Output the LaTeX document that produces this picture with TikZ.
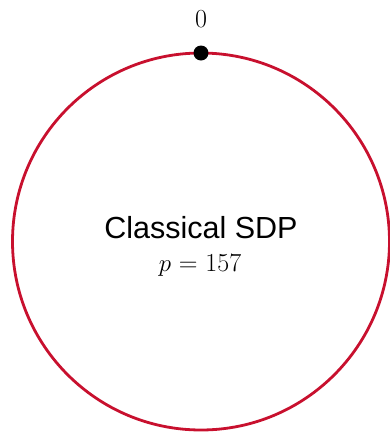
\documentclass[tikz,border=0pt]{standalone}
\usepackage{fontspec}
\newfontfamily\labelsans{Liberation Sans}
\definecolor{ringred}{RGB}{200,16,46}
\begin{document}
\begin{tikzpicture}[x=1pt,y=-1pt,
  ringstyle/.style={circle, draw=ringred, line width=2.8pt, minimum size=377pt, inner sep=0pt, outer sep=0pt},
  dotstyle/.style={circle, fill=black, minimum size=15pt, inner sep=0pt, outer sep=0pt},
  serifbig/.style={font=\fontsize{26}{30}\selectfont, anchor=base, inner sep=0pt},
  sansbig/.style={font=\labelsans\fontsize{30.5}{36}\selectfont, anchor=base, inner sep=0pt}]
\useasboundingbox (0,0) rectangle (390,432);
\node[ringstyle] (ring) at (201,241.5) {};
\node[dotstyle] (dot) at (ring.north) {};
\node[serifbig] (zero) at (201,27) {0};
\node[sansbig] (title) at (201,238) {Classical SDP};
\node[serifbig] (pval) at (200,271) {$p$ = 157};
\end{tikzpicture}
\end{document}
